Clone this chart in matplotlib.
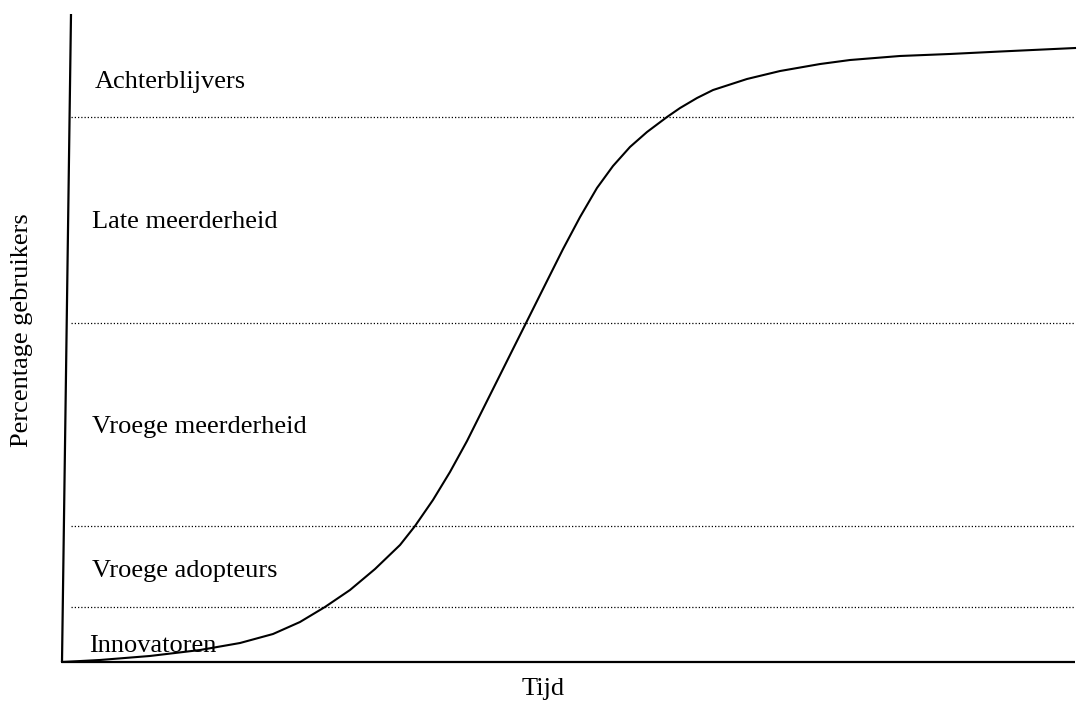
import matplotlib.pyplot as plt

# === Data (tijd 0-100, percentage gebruikers 0-100) ===
tijd = [0, 3.75, 8.69, 13.62, 17.57, 20.83, 23.49, 25.96, 28.43, 30.90,
        33.37, 34.85, 36.62, 38.30, 39.98, 41.56, 43.24, 44.52, 45.71,
        47.88, 49.46, 51.14, 52.81, 54.39, 56.07, 57.75, 59.72, 61.01,
        62.69, 64.27, 67.62, 70.88, 74.83, 77.79, 82.72, 87.66, 92.60, 100]
adoptie = [0, 0.31, 0.93, 1.85, 2.93, 4.32, 6.17, 8.49, 11.11, 14.35,
           18.06, 20.99, 25.0, 29.32, 34.10, 39.04, 44.29, 48.30, 52.01,
           58.80, 63.73, 68.67, 73.15, 76.54, 79.48, 81.79, 84.10, 85.49,
           87.04, 88.27, 89.97, 91.20, 92.28, 92.90, 93.52, 93.83, 94.21, 94.75]

# grenzen tussen de groepen (percentage)
grenzen = [8.5, 21.0, 52.3, 84.1]

groepen = ["Innovatoren", "Vroege adopteurs", "Vroege meerderheid",
           "Late meerderheid", "Achterblijvers"]

# === Layout (pixels of the 1083x702 figure) ===
W, H = 1083, 702
X0, X1 = 62, 1075      # x-axis from / to
Y0, Y1 = 662, 14       # y-axis bottom / top
label_pos = [(89, 652), (92, 577), (92, 433), (92, 228), (95, 88)]

plt.rcParams['font.family'] = ['Liberation Serif', 'DejaVu Serif']

fig = plt.figure(figsize=(W / 100, H / 100), dpi=100)
ax = fig.add_axes([X0 / W, 1 - Y0 / H, (X1 - X0) / W, (Y0 - Y1) / H])
ax.set_xlim(0, 100)
ax.set_ylim(0, 100)
ax.axis('off')

# axes drawn as plain lines (y-axis leans slightly)
lean = (71 - X0) / (X1 - X0) * 100
ax.plot([0, 100], [0, 0], color='black', lw=1.6, clip_on=False, solid_capstyle='butt')
ax.plot([0, lean], [0, 100], color='black', lw=1.6, clip_on=False, solid_capstyle='butt')

# dotted group boundaries
for g in grenzen:
    ax.plot([lean, 100], [g, g], color='black', lw=0.9,
            linestyle=(0, (1, 1.6)), clip_on=False)

# S-curve
ax.plot(tijd, adoptie, color='black', lw=1.5, clip_on=False,
        solid_joinstyle='round')

# group labels
for name, (px, py) in zip(groepen, label_pos):
    fig.text(px / W, 1 - py / H, name, fontsize=19, ha='left', va='baseline')

fig.text(543 / W, 1 - 695 / H, "Tijd", fontsize=19, ha='center', va='baseline')
fig.text(22 / W, 1 - 330 / H, "Percentage gebruikers", fontsize=19,
         rotation=90, ha='center', va='center')

fig.savefig("out.png", dpi=100)
